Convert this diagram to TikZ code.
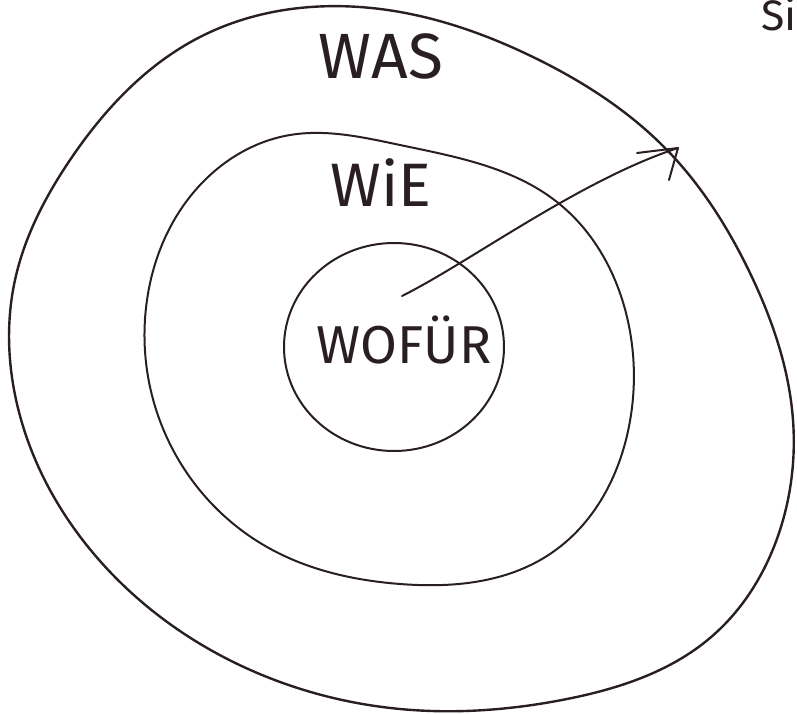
\documentclass[tikz,border=0pt]{standalone}
\usepackage{fontspec}
\setmainfont{Fira Sans}
\usetikzlibrary{hobby}
\begin{document}
\begin{tikzpicture}[x=0.75pt,y=-0.75pt,
  ink/.style={draw=inkc,line width=1.5pt,line cap=round,line join=round},
  hand/.style={text=inkc,inner sep=0pt}]
\definecolor{inkc}{HTML}{2A1F20}
\useasboundingbox (0,0) rectangle (797,714);
\fill[white] (0,0) rectangle (797,714);
% outer
\draw[ink,line width=1.8pt,use Hobby shortcut,closed=true]
 (400,12) .. (533,57) .. (667,150) .. (750,273) .. (793,420) .. (780,530)
 .. (710,638) .. (567,699) .. (400,709) .. (267,677) .. (100,561) .. (17,404)
 .. (15,280) .. (70,160) .. (200,37);
% middle
\draw[ink,use Hobby shortcut,closed=true]
 (400,145) .. (557,202) .. (627,317) .. (630,421) .. (550,554) .. (400,584)
 .. (267,547) .. (160,421) .. (147,300) .. (193,193) .. (290,135);
% inner
\draw[ink] (394,347) ellipse [x radius=110, y radius=104];
% labels
\node[hand,font=\fontsize{48}{48}\selectfont] (was) at (381,56) {WAS};
\node[hand,font=\fontsize{46}{46}\selectfont] (wie) at (381,183) {WiE};
\node[hand,font=\fontsize{40}{40}\selectfont] (wofur) at (404,340) {WOFÜR};
\node[hand,anchor=base east,font=\fontsize{32}{32}\selectfont] (si) at (797,30) {Si};
% arrow
\coordinate (a0) at (402,296);
\coordinate (a1) at (678,148);
\coordinate (h1) at (637,153);
\coordinate (h2) at (669,180);
\draw[ink] (a0) .. controls (470,262) and (580,180) .. (a1);
\draw[ink] (h1) -- (a1) -- (h2);
\end{tikzpicture}
\end{document}
